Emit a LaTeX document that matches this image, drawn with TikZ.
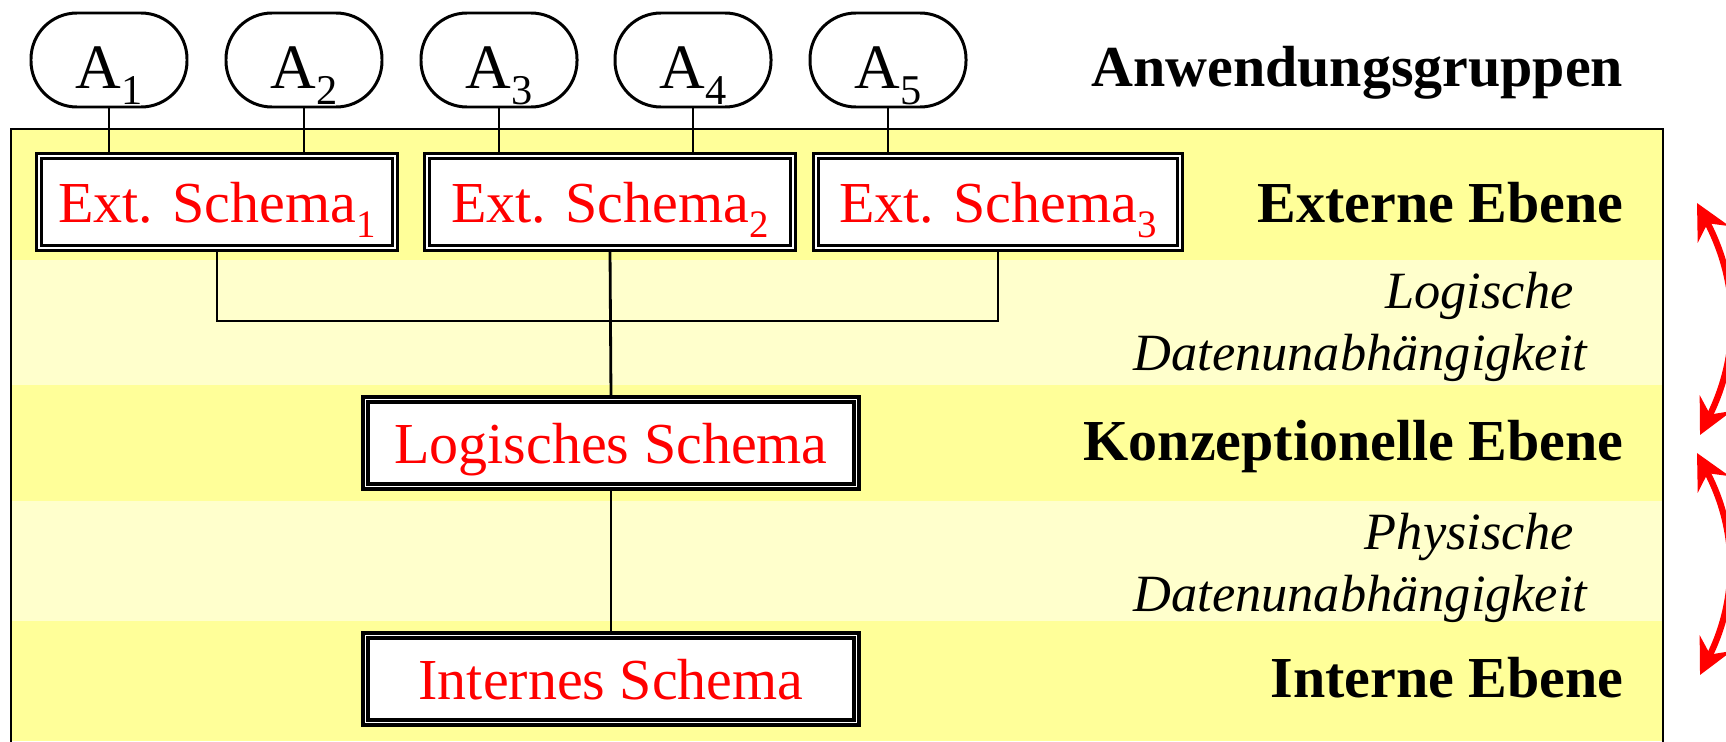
\documentclass[tikz,border=0pt]{standalone}
\usepackage{fontspec}
\setmainfont{Liberation Serif}
\usepackage{graphicx}
\usepackage{tikz}
\usetikzlibrary{arrows.meta}
\usetikzlibrary{calc}
\usetikzlibrary{positioning}

\definecolor{bandgelb}{RGB}{255,255,153}
\definecolor{bandhell}{RGB}{255,255,204}

\newcommand{\tief}[1]{\raisebox{-0.26em}{\scalebox{0.67}{#1}}}

\begin{document}
\begin{tikzpicture}
	[every node/.style={font=\fontsize{16.5}{17}\selectfont},
	 anwendung/.style={draw, line width=0.85pt, rounded corners=0.46cm, minimum width=1.56cm, minimum height=0.94cm, inner sep=0pt, text height=0.56cm, text depth=0cm, font=\fontsize{18}{18}\selectfont},
	 schema/.style={draw, fill=white, line width=0.9pt, double=white, double distance=0.5pt, minimum height=0.92cm, inner sep=0pt, text height=0.42cm, text depth=0.02cm, text=red},
	 ebene/.style={anchor=base east, inner sep=0pt, font=\fontsize{16.5}{17}\selectfont\bfseries},
	 unabh/.style={anchor=east, align=right, inner sep=0pt, font=\fontsize{14.9}{17.6}\selectfont\itshape},
	 linie/.style={line width=0.8pt},
	 pfeil/.style={red, line width=1.8pt, {Stealth[length=10pt,width=10pt,inset=3.5pt]}-{Stealth[length=10pt,width=10pt,inset=3.5pt]}}]
	\useasboundingbox (0,0) rectangle (17.26,7.41);
	% Ebenen
	\fill[bandgelb] (0.11,0) rectangle (16.63,6.12);
	\fill[bandhell] (0.11,3.56) rectangle (16.63,4.81);
	\fill[bandhell] (0.11,1.20) rectangle (16.63,2.40);
	\draw[line width=0.8pt] (0.11,-0.1) -- (0.11,6.12) -- (16.63,6.12) -- (16.63,-0.1);
	% Anwendungsgruppen
	\node[anwendung] (A1) at (1.09,6.81) {A\tief{1}};
	\node[anwendung] (A2) at (3.04,6.81) {A\tief{2}};
	\node[anwendung] (A3) at (4.99,6.81) {A\tief{3}};
	\node[anwendung] (A4) at (6.93,6.81) {A\tief{4}};
	\node[anwendung] (A5) at (8.88,6.81) {A\tief{5}};
	% Schemata
	\node[schema, minimum width=3.56cm] (es1) at (2.17,5.39) {Ext. Schema\tief{1}};
	\node[schema, minimum width=3.66cm] (es2) at (6.10,5.39) {Ext. Schema\tief{2}};
	\node[schema, minimum width=3.64cm] (es3) at (9.98,5.39) {Ext. Schema\tief{3}};
	\node[schema, minimum width=4.91cm, minimum height=0.87cm] (ls) at (6.11,2.98) {Logisches Schema};
	\node[schema, minimum width=4.91cm, minimum height=0.87cm] (is) at (6.11,0.62) {Internes Schema};
	% Verbindungen
	\draw[linie] (A1.south) -- (A1.south |- es1.north);
	\draw[linie] (A2.south) -- (A2.south |- es1.north);
	\draw[linie] (A3.south) -- (A3.south |- es2.north);
	\draw[linie] (A4.south) -- (A4.south |- es2.north);
	\draw[linie] (A5.south) -- (A5.south |- es3.north);
	\coordinate (knoten) at ($(es2.south |- 0,4.20)$);
	\draw[linie] (es1.south) |- (knoten) -| (es3.south);
	\draw[linie] (es2.south) -- (ls.north);
	\draw[linie] (ls.south) -- (is.north);
	% Beschriftung
	\node[ebene] (anw) at (16.24,6.55) {Anwendungsgruppen};
	\node[ebene] (ext) at (16.24,5.19) {Externe Ebene};
	\node[ebene] (konz) at (16.24,2.81) {Konzeptionelle Ebene};
	\node[ebene] (intern) at (16.24,0.44) {Interne Ebene};
	\node[unabh] (logu) at (15.88,4.14) {Logische\kern0.25em\\Datenunabhängigkeit};
	\node[unabh] (physu) at (15.88,1.73) {Physische\kern0.25em\\Datenunabhängigkeit};
	% Pfeile
	\coordinate (p1o) at (16.97,5.38);
	\coordinate (p1u) at (17.00,3.06);
	\coordinate (p2o) at (16.97,2.88);
	\coordinate (p2u) at (17.00,0.66);
	\draw[pfeil] (p1o) to[bend left=27] (p1u);
	\draw[pfeil] (p2o) to[bend left=27] (p2u);
\end{tikzpicture}
\end{document}
